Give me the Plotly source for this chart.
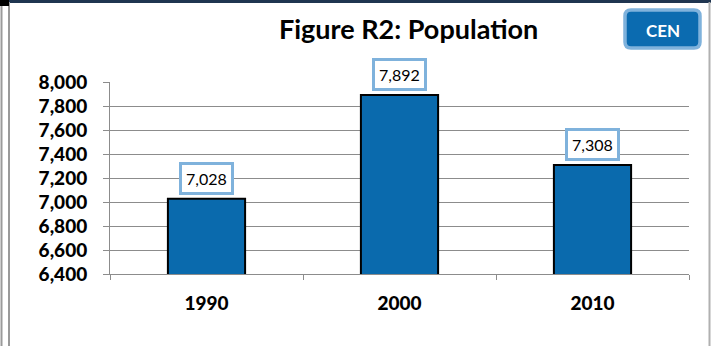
import plotly.graph_objects as go

years = ["1990", "2000", "2010"]
population = [7028, 7892, 7308]
y_ticks = [6400, 6600, 6800, 7000, 7200, 7400, 7600, 7800, 8000]
y_tick_text = [f"{v:,}" for v in y_ticks]
title_text = "Figure R2: Population"
badge_text = "CEN"

W, H = 711, 346
L, R, T, B = 110, 22, 82, 72
PW, PH = W - L - R, H - T - B

def px(x):
    return (x - L) / PW

def py(y):
    return (H - B - y) / PH

BAR = "#0a6aad"
LABEL_BORDER = "#7fb2dc"
FONT = "Lato"

fig = go.Figure()
fig.add_trace(go.Bar(
    x=years, y=population, width=0.4,
    marker=dict(color=BAR, line=dict(color="black", width=2)),
    hoverinfo="skip",
))

annotations = []
for i, v in enumerate(population):
    annotations.append(dict(
        x=i, y=v, xref="x", yref="y", text=f"{v:,}", showarrow=False,
        yanchor="bottom", yshift=4,
        font=dict(family=FONT, size=16, color="black"),
        bgcolor="white", bordercolor=LABEL_BORDER, borderwidth=3, borderpad=4,
    ))

annotations.append(dict(
    x=px(408), y=py(29), xref="paper", yref="paper", text=f"<b>{title_text}</b>",
    showarrow=False, xanchor="center", yanchor="middle",
    font=dict(family=FONT, size=27, color="black", weight=900),
))
annotations.append(dict(
    x=px(663), y=py(30), xref="paper", yref="paper", text=f"<b>{badge_text}</b>",
    showarrow=False, xanchor="center", yanchor="middle",
    font=dict(family=FONT, size=17, color="white"),
))

# rounded badge path (paper coords)
x0, x1, y0, y1, r = 625, 700, 10, 48, 6
def P(x, y):
    return f"{px(x):.5f},{py(y):.5f}"
path = (f"M {P(x0+r, y0)} L {P(x1-r, y0)} Q {P(x1, y0)} {P(x1, y0+r)} "
        f"L {P(x1, y1-r)} Q {P(x1, y1)} {P(x1-r, y1)} L {P(x0+r, y1)} "
        f"Q {P(x0, y1)} {P(x0, y1-r)} L {P(x0, y0+r)} Q {P(x0, y0)} {P(x0+r, y0)} Z")

shapes = [
    dict(type="path", xref="paper", yref="paper", path=path,
         fillcolor="#0b6bb0", line=dict(color=LABEL_BORDER, width=3.5), layer="below"),
    # frame lines
    dict(type="line", xref="paper", yref="paper", x0=px(0), x1=px(711), y0=py(1.5), y1=py(1.5),
         line=dict(color="#1f3550", width=3)),
    dict(type="line", xref="paper", yref="paper", x0=px(1.5), x1=px(1.5), y0=py(0), y1=py(346),
         line=dict(color="#9a9a9a", width=2)),
    dict(type="line", xref="paper", yref="paper", x0=px(9), x1=px(9), y0=py(2), y1=py(346),
         line=dict(color="#9a9a9a", width=2)),
    dict(type="line", xref="paper", yref="paper", x0=px(709.5), x1=px(709.5), y0=py(2), y1=py(346),
         line=dict(color="#b0b0b0", width=2)),
    dict(type="rect", xref="paper", yref="paper", x0=px(0), x1=px(9), y0=py(0), y1=py(6),
         fillcolor="black", line=dict(width=0)),
]

fig.update_layout(
    width=W, height=H,
    margin=dict(l=L, r=R, t=T, b=B, autoexpand=False),
    paper_bgcolor="white", plot_bgcolor="white",
    showlegend=False, bargap=0.6,
    annotations=annotations, shapes=shapes,
    xaxis=dict(
        type="category", showgrid=False, showline=True, linecolor="#8c8c8c", linewidth=1,
        ticks="outside", tickson="boundaries", ticklen=5, tickcolor="#8c8c8c",
        tickfont=dict(family=FONT, size=19, color="black", weight=900),
        ticklabelstandoff=12,
        range=[-0.5, 2.5],
    ),
    yaxis=dict(
        range=[6400, 8000], tickvals=y_ticks, ticktext=y_tick_text,
        showgrid=True, gridcolor="#8c8c8c", gridwidth=1,
        showline=True, linecolor="#8c8c8c", linewidth=1,
        ticks="outside", ticklen=6, tickcolor="#8c8c8c",
        tickfont=dict(family=FONT, size=19, color="black", weight=900),
        ticklabelstandoff=12,
        zeroline=False,
    ),
)

fig.write_html("out.html")
